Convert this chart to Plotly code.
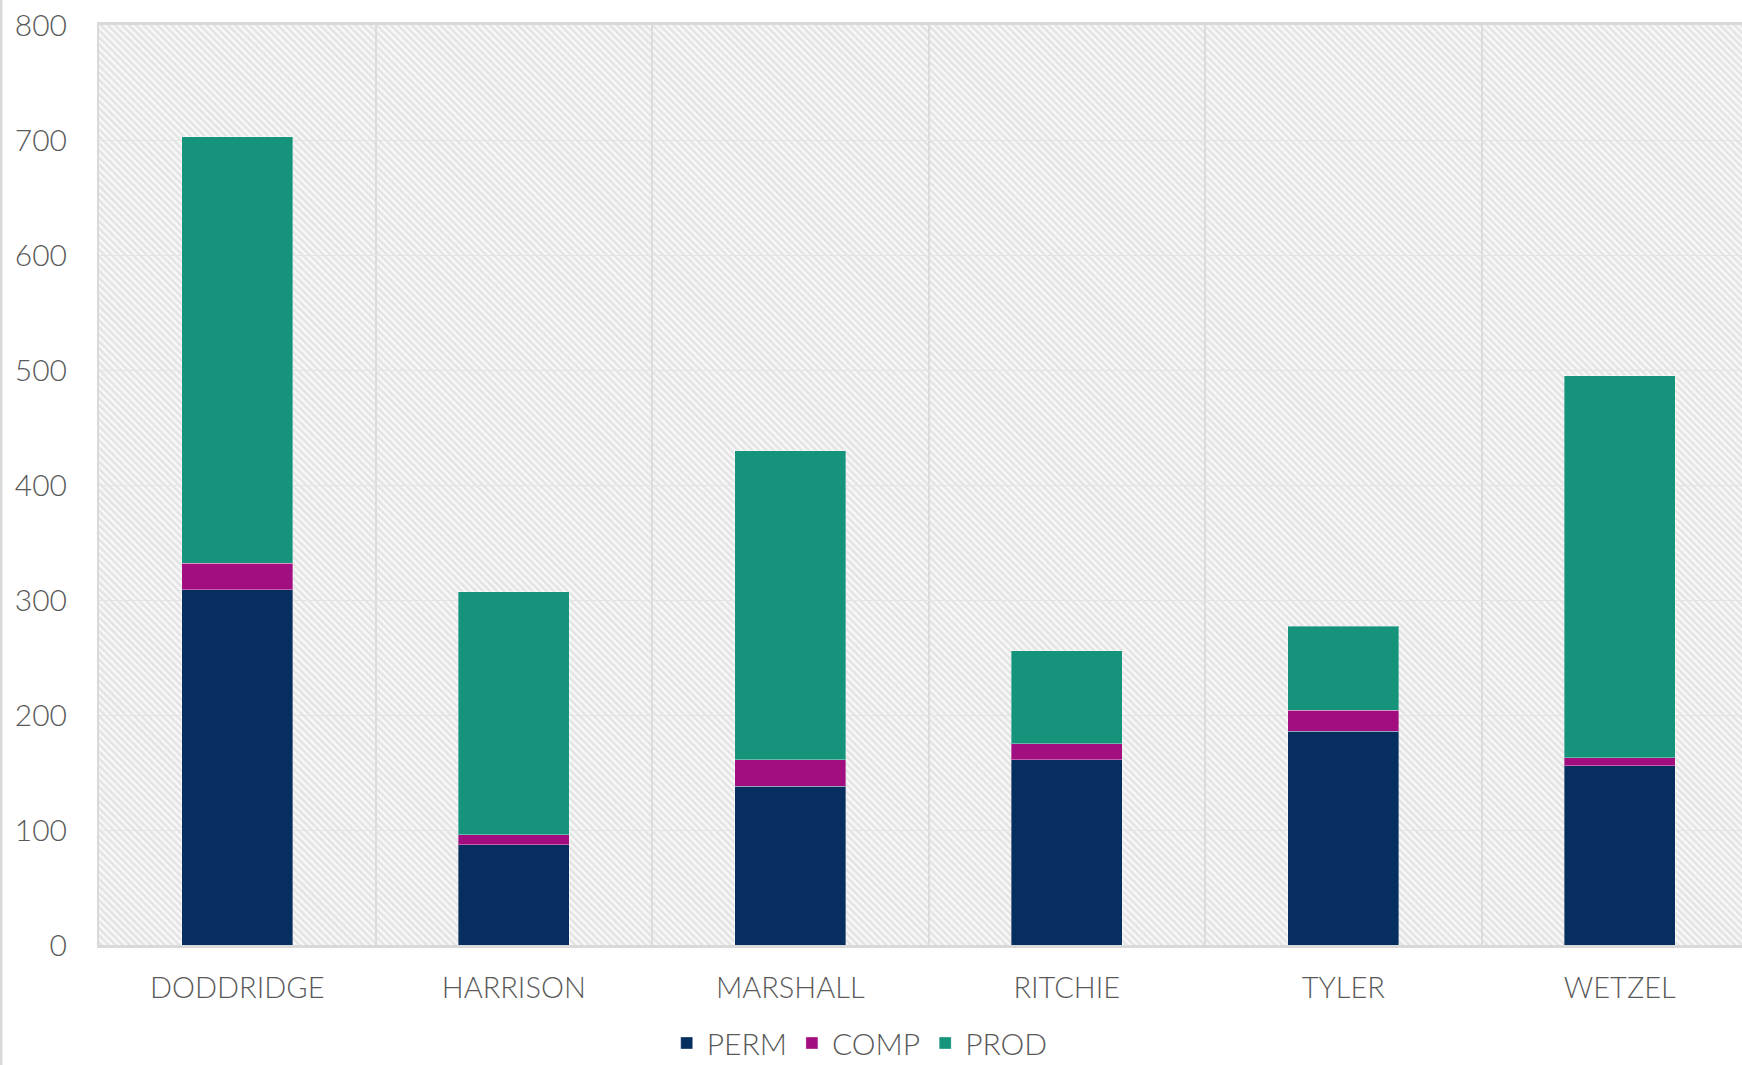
import base64
import plotly.graph_objects as go

categories = ["DODDRIDGE", "HARRISON", "MARSHALL", "RITCHIE", "TYLER", "WETZEL"]
perm = [309, 87, 138, 161, 186, 156]
comp = [23, 9, 23, 14, 18, 7]
prod = [371, 211, 269, 81, 73, 332]

series_names = ["PERM", "COMP", "PROD"]
series_colors = ["#062f5f", "#a20d7f", "#15937b"]
y_ticks = [0, 100, 200, 300, 400, 500, 600, 700, 800]

W, H = 1742, 1065
ML, MT, MB = 99, 25, 120
PW, PH = W - ML, H - MT - MB

# diagonal hatch background for the plot area
svg = (
    f'<svg xmlns="http://www.w3.org/2000/svg" width="{PW}" height="{PH}">'
    '<defs><pattern id="p" width="5" height="5" patternUnits="userSpaceOnUse" '
    'patternTransform="rotate(-45)">'
    '<rect width="5" height="5" fill="#f8f8f8"/>'
    '<rect width="2.5" height="5" fill="#e3e3e3"/>'
    '</pattern></defs>'
    f'<rect width="{PW}" height="{PH}" fill="url(#p)"/></svg>'
)
svg_uri = "data:image/svg+xml;base64," + base64.b64encode(svg.encode()).decode()

fig = go.Figure()
for name, vals, col in zip(series_names, [perm, comp, prod], series_colors):
    fig.add_trace(go.Bar(
        x=categories, y=vals, name=name,
        marker=dict(color=col, line=dict(color="rgba(255,255,255,0.35)", width=1)),
    ))

font_family = "Lato, 'Open Sans', sans-serif"
fig.update_layout(
    width=W, height=H,
    margin=dict(l=ML, r=0, t=MT, b=MB, pad=0, autoexpand=False),
    barmode="stack",
    bargap=0.6,
    paper_bgcolor="white",
    plot_bgcolor="rgba(0,0,0,0)",
    font=dict(family=font_family, size=30, color="#595959", weight=300),
    showlegend=True,
    legend=dict(orientation="h", x=0.463, xanchor="center",
                yref="container", y=(H - 1043) / H, yanchor="middle",
                font=dict(size=30, color="#595959", weight=300), traceorder="normal",
                bgcolor="rgba(0,0,0,0)"),
    images=[dict(source=svg_uri, xref="paper", yref="paper", x=0, y=1,
                 sizex=1, sizey=1, xanchor="left", yanchor="top",
                 sizing="stretch", layer="below")],
    shapes=[dict(type="line", xref="paper", yref="paper",
                 x0=-98 / PW, x1=-98 / PW, y0=-MB / PH, y1=1 + MT / PH,
                 line=dict(color="#d9d9d9", width=3))],
)
fig.update_xaxes(
    type="category", range=[-0.5, 5.442],
    tickson="boundaries", ticks="", showgrid=True,
    gridcolor="#dcdcdc", gridwidth=1.5,
    showline=True, linecolor="#d9d9d9", linewidth=2.5, mirror=True,
    ticklabelstandoff=15, tickfont=dict(size=29, color="#595959", weight=300),
)
fig.update_yaxes(
    range=[0, 800], tickvals=y_ticks, ticks="",
    showgrid=True, gridcolor="#e4e4e4", gridwidth=1,
    showline=True, linecolor="#d9d9d9", linewidth=2, mirror=True,
    zeroline=False, ticklabelstandoff=24, tickfont=dict(size=30, color="#595959", weight=300),
)

fig.write_html("out.html", config={"displayModeBar": False},
               post_script="document.body.style.margin='0';document.body.style.overflow='hidden';")
